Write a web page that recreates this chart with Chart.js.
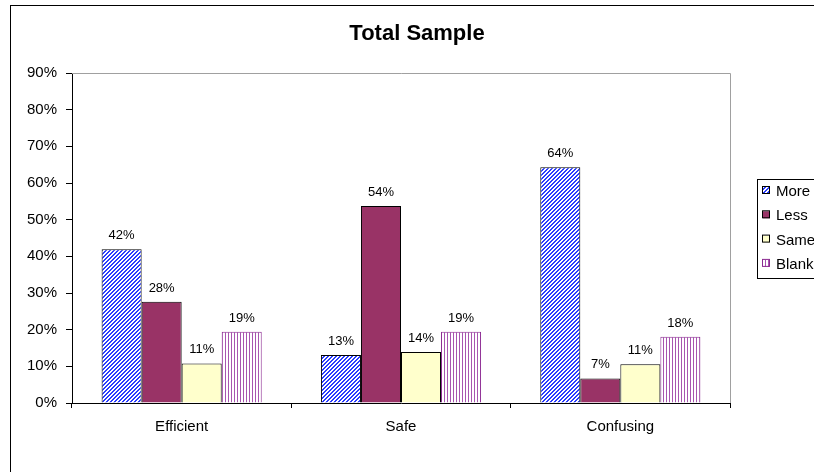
<!DOCTYPE html>
<html>
<head>
<meta charset="utf-8">
<script src="https://cdn.jsdelivr.net/npm/chart.js@4/dist/chart.umd.min.js"></script>
<style>
  html, body { margin: 0; padding: 0; background: #fff; }
  #wrap { width: 814px; height: 472px; position: relative; }
</style>
</head>
<body>
<div id="wrap"><canvas id="chart" width="814" height="472"></canvas></div>
<script>
const categories = ['Efficient', 'Safe', 'Confusing'];
const seriesNames = ['More', 'Less', 'Same', 'Blank'];
const moreValues = [41.9, 13.1, 64.3];
const lessValues = [27.6, 53.7, 6.7];
const sameValues = [10.8, 13.9, 10.6];
const blankValues = [19.4, 19.4, 18.1];
const yTicks = [0, 10, 20, 30, 40, 50, 60, 70, 80, 90];

const FONT = '"Liberation Sans", Arial, sans-serif';

// small repeating fills for the hatched series
function diagonalPattern() {
  const c = document.createElement('canvas');
  c.width = 4; c.height = 4;
  const g = c.getContext('2d');
  g.fillStyle = '#ffffff';
  g.fillRect(0, 0, 4, 4);
  g.fillStyle = '#2a3cff';
  for (let i = 0; i < 4; i++) {
    g.fillRect(3 - i, i, 1, 1);
    g.fillRect((4 - i) % 4, i, 1, 1);
  }
  return g.createPattern(c, 'repeat');
}

function stripePattern() {
  const c = document.createElement('canvas');
  c.width = 3; c.height = 3;
  const g = c.getContext('2d');
  g.fillStyle = '#ffffff';
  g.fillRect(0, 0, 3, 3);
  g.fillStyle = '#a855b0';
  g.fillRect(0, 0, 1, 3);
  return g.createPattern(c, 'repeat');
}

const fills = [diagonalPattern(), '#993366', '#ffffcc', stripePattern()];
const borders = ['#000000', '#000000', '#000000', '#8b2a91'];
const seriesValues = [moreValues, lessValues, sameValues, blankValues];

const datasets = seriesNames.map((name, i) => ({
  label: name,
  data: seriesValues[i],
  backgroundColor: fills[i],
  borderColor: borders[i],
  borderWidth: 1,
  borderSkipped: 'bottom'
}));

// frame, title, plot border, value labels and legend box
const decorations = {
  id: 'decorations',
  beforeDraw(chart) {
    const ctx = chart.ctx;
    ctx.save();
    ctx.fillStyle = '#fff';
    ctx.fillRect(0, 0, chart.width, chart.height);
    ctx.strokeStyle = '#000';
    ctx.lineWidth = 1;
    ctx.strokeRect(10.5, 5.5, 900, 600);
    ctx.restore();
  },
  afterDraw(chart) {
    const ctx = chart.ctx;
    const a = chart.chartArea;
    ctx.save();

    // plot area top and right edges
    ctx.strokeStyle = '#a0a0a0';
    ctx.lineWidth = 1;
    ctx.beginPath();
    ctx.moveTo(a.left, a.top + 0.5);
    ctx.lineTo(a.right + 0.5, a.top + 0.5);
    ctx.lineTo(a.right + 0.5, a.bottom);
    ctx.stroke();

    // title
    ctx.fillStyle = '#000';
    ctx.font = 'bold 22px ' + FONT;
    ctx.textAlign = 'center';
    ctx.textBaseline = 'alphabetic';
    ctx.fillText('Total Sample', 417, 40);

    // value labels
    ctx.font = '13px ' + FONT;
    chart.data.datasets.forEach((ds, i) => {
      chart.getDatasetMeta(i).data.forEach((bar, j) => {
        ctx.fillText(Math.round(ds.data[j]) + '%', bar.x, bar.y - 10);
      });
    });

    // legend
    ctx.strokeStyle = '#000';
    ctx.strokeRect(757.5, 179.5, 100, 99);
    ctx.font = '15px ' + FONT;
    ctx.textAlign = 'left';
    ctx.textBaseline = 'middle';
    seriesNames.forEach((name, i) => {
      const y = 191 + i * 24.3;
      ctx.fillStyle = fills[i];
      ctx.fillRect(763, y - 4, 7, 7);
      ctx.strokeStyle = borders[i];
      ctx.strokeRect(762.5, y - 4.5, 7, 7);
      ctx.fillStyle = '#000';
      ctx.fillText(name, 776, y + 1);
    });
    ctx.restore();
  }
};

new Chart(document.getElementById('chart').getContext('2d'), {
  type: 'bar',
  data: { labels: categories, datasets },
  options: {
    responsive: false,
    animation: false,
    layout: { padding: { left: 0, top: 73, right: 84, bottom: 0 } },
    datasets: { bar: { categoryPercentage: 0.73, barPercentage: 1 } },
    plugins: {
      legend: { display: false },
      title: { display: false },
      tooltip: { enabled: false }
    },
    scales: {
      x: {
        offset: true,
        grid: {
          offset: true,
          drawOnChartArea: false,
          tickLength: 5,
          color: '#000'
        },
        border: { color: '#000', width: 1 },
        ticks: { color: '#000', font: { family: FONT, size: 15 }, padding: 10 },
        afterFit(scale) { scale.height = 69; }
      },
      y: {
        min: 0,
        max: 90,
        afterBuildTicks(scale) { scale.ticks = yTicks.map(v => ({ value: v })); },
        grid: { drawOnChartArea: false, tickLength: 6, color: '#000' },
        border: { color: '#000', width: 1 },
        ticks: {
          color: '#000',
          font: { family: FONT, size: 15 },
          padding: 9,
          callback: v => v + '%'
        },
        afterFit(scale) { scale.width = 72; }
      }
    }
  },
  plugins: [decorations]
});
</script>
</body>
</html>
